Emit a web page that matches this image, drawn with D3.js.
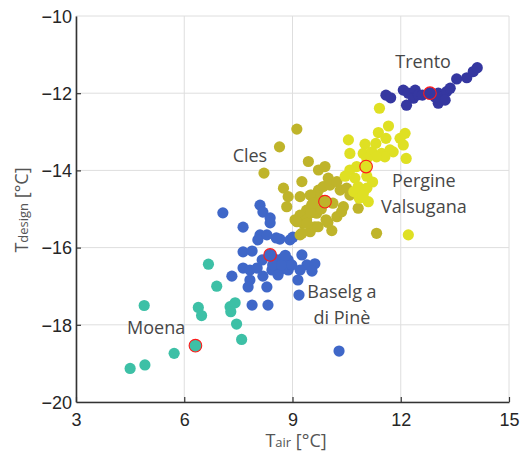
<!DOCTYPE html>
<html>
<head>
<meta charset="utf-8">
<script src="https://cdn.jsdelivr.net/npm/d3@7"></script>
<style>
  html, body { margin: 0; padding: 0; background: #fff; }
  svg { display: block; }
</style>
</head>
<body>
<svg id="chart" width="524" height="459"></svg>
<script>
// ---- data ----
const xTicks = [3, 6, 9, 12, 15];
const yTicks = [-10, -12, -14, -16, -18, -20];

const moenaX = [6.67,6.90,4.89,6.39,6.48,7.41,7.27,7.29,7.45,7.59,5.72,4.91,4.50];
const moenaY = [-16.43,-17.00,-17.50,-17.55,-17.76,-17.43,-17.53,-17.66,-17.98,-18.38,-18.74,-19.04,-19.13];

const baselgaX = [7.07,8.10,8.18,8.38,8.38,7.63,8.10,8.29,8.04,8.65,8.93,9.01,7.63,7.88,8.16,8.57,8.74,8.88,8.43,8.65,8.88,8.60,9.26,9.40,9.62,9.54,9.21,7.63,7.82,8.02,7.32,7.82,8.18,9.15,7.77,8.29,9.18,7.88,8.32,10.29,8.45,8.70,8.80,8.98,8.55];
const baselgaY = [-15.10,-14.90,-15.08,-15.23,-15.36,-15.47,-15.67,-15.67,-15.80,-15.78,-15.80,-15.73,-16.11,-16.09,-16.32,-16.32,-16.27,-16.32,-16.58,-16.58,-16.58,-16.71,-16.19,-16.45,-16.42,-16.61,-16.58,-16.53,-16.58,-16.53,-16.74,-16.84,-16.74,-16.84,-17.02,-17.02,-17.23,-17.49,-17.49,-18.68,-16.45,-16.45,-16.20,-16.45,-15.75];

const clesX = [9.12,8.64,8.21,9.44,9.72,9.90,9.99,9.26,8.75,8.88,8.84,9.53,9.72,9.85,10.04,10.23,10.32,10.50,10.59,9.53,9.39,9.21,9.07,9.30,9.67,10.23,10.41,10.82,9.49,9.21,10.09,11.33,10.36,9.62,9.39,9.26,9.60,9.70,9.80,9.50,9.98,10.12,9.21,9.49,9.57,9.12,9.40,9.71,9.93];
const clesY = [-12.93,-13.39,-14.07,-13.77,-13.99,-13.90,-14.20,-14.29,-14.46,-14.68,-14.94,-14.64,-14.51,-14.42,-14.38,-14.29,-14.51,-14.46,-14.64,-14.90,-15.03,-15.16,-15.28,-15.37,-15.11,-15.20,-14.94,-14.98,-15.59,-15.67,-15.56,-15.63,-15.07,-15.46,-15.28,-15.63,-14.80,-14.70,-15.00,-15.10,-15.35,-14.85,-14.68,-14.64,-14.85,-15.33,-15.37,-15.46,-15.28];

const pergineX = [11.41,11.66,11.38,11.59,11.31,10.55,11.01,10.59,10.96,11.20,11.47,11.79,11.98,12.12,12.07,12.15,11.70,11.56,11.33,11.06,10.78,10.59,11.06,10.46,10.73,10.82,11.06,10.96,11.10,12.21,10.70,10.85,11.22,10.95];
const pergineY = [-12.39,-12.85,-13.02,-13.17,-13.30,-13.21,-13.32,-13.56,-13.56,-13.52,-13.56,-13.52,-13.17,-13.04,-13.34,-13.69,-13.47,-13.65,-13.65,-13.69,-13.90,-13.99,-14.15,-14.15,-14.20,-14.42,-14.46,-14.59,-14.81,-15.67,-14.55,-14.72,-14.30,-14.65];

const trentoX = [11.59,11.72,12.07,12.21,12.40,12.35,12.16,12.49,13.04,13.13,13.04,13.27,13.37,13.23,13.55,13.83,14.01,14.12,12.95,12.60];
const trentoY = [-12.05,-12.12,-11.92,-12.00,-11.92,-12.13,-12.31,-12.04,-12.00,-12.09,-12.26,-11.96,-11.87,-12.18,-11.63,-11.60,-11.44,-11.34,-12.10,-12.05];

const stationNames = ["Baselga", "Moena", "Cles", "Pergine", "Trento"];
const repX = [8.38, 6.31, 9.90, 11.04, 12.81];
const repY = [-16.19, -18.54, -14.81, -13.90, -12.00];

// label anchors (data coords) and text lines
const labelLines = [["Baselg a", "di Pinè"], ["Moena"], ["Cles"], ["Pergine", "Valsugana"], ["Trento"]];
const labelX = [10.37, 5.22, 7.82, 12.64, 12.62];
const labelY = [-17.30, -18.25, -13.77, -14.43, -11.36];

// ---- chart ----
const W = 524, H = 459;
const m = {left: 76, top: 16, right: 15, bottom: 57};
const svg = d3.select("#chart");
const x = d3.scaleLinear().domain([3, 15]).range([m.left, W - m.right]);
const y = d3.scaleLinear().domain([-20, -10]).range([H - m.bottom, m.top]);

const colors = ["#3f67c8", "#3dc0a6", "#bfb42a", "#dfe023", "#3537a0"];
const sets = [
  [baselgaX, baselgaY], [moenaX, moenaY], [clesX, clesY], [pergineX, pergineY], [trentoX, trentoY]
];

// grid
const grid = svg.append("g");
grid.selectAll("line.vx").data(xTicks).join("line")
  .attr("x1", d => x(d)).attr("x2", d => x(d))
  .attr("y1", y(-20)).attr("y2", y(-10))
  .attr("stroke", "#dedede").attr("stroke-width", 1);
grid.selectAll("line.hy").data(yTicks).join("line")
  .attr("x1", x(3)).attr("x2", x(15))
  .attr("y1", d => y(d)).attr("y2", d => y(d))
  .attr("stroke", "#dedede").attr("stroke-width", 1);

// points
sets.forEach(([xs, ys], i) => {
  svg.append("g").selectAll("circle").data(xs.map((v, k) => [v, ys[k]])).join("circle")
    .attr("cx", d => x(d[0])).attr("cy", d => y(d[1])).attr("r", 5.6)
    .attr("fill", colors[i]);
});
// representative points with red ring
svg.append("g").selectAll("circle").data(repX.map((v, k) => [v, repY[k], k])).join("circle")
  .attr("cx", d => x(d[0])).attr("cy", d => y(d[1])).attr("r", 6.3)
  .attr("fill", d => colors[d[2]]).attr("stroke", "#ff1a1a").attr("stroke-width", 1.1);

// axes
const xAxis = d3.axisBottom(x).tickValues(xTicks).tickSizeInner(-5).tickSizeOuter(0).tickPadding(10);
const yAxis = d3.axisLeft(y).tickValues(yTicks).tickSizeInner(-5).tickSizeOuter(0).tickPadding(4);
const gx = svg.append("g").attr("transform", `translate(0,${y(-20)})`).call(xAxis);
const gy = svg.append("g").attr("transform", `translate(${x(3)},0)`).call(yAxis);
[gx, gy].forEach(g => {
  g.select(".domain").attr("stroke", "#333").attr("stroke-width", 1.6);
  g.selectAll(".tick line").attr("stroke", "#333").attr("stroke-width", 1.2);
  g.selectAll("text").attr("font-family", "'Liberation Sans', Arial, sans-serif")
    .attr("font-size", 18).attr("fill", "#262626");
});
gx.selectAll("text").attr("dy", "0.75em");
gy.selectAll("text").attr("dy", "0.35em");
gy.selectAll(".tick").filter(d => d === -10 || d === -20).select("line").remove();

// station labels
const lab = svg.append("g").attr("font-family", "'Open Sans', sans-serif")
  .attr("font-size", 18).attr("fill", "#474747").attr("text-anchor", "middle");
labelLines.forEach((lines, i) => {
  lines.forEach((t, j) => {
    lab.append("text").attr("x", x(labelX[i])).attr("y", y(labelY[i]) + j * 26).text(t);
  });
});

// axis titles
const xt = svg.append("text").attr("x", 296).attr("y", 447)
  .attr("text-anchor", "middle").attr("font-family", "'Open Sans', sans-serif").attr("fill", "#555");
xt.append("tspan").attr("font-size", 18).text("T");
xt.append("tspan").attr("font-size", 13).text("air");
xt.append("tspan").attr("font-size", 18).text(" [°C]");

const yt = svg.append("text").attr("transform", "translate(28,210) rotate(-90)")
  .attr("text-anchor", "middle").attr("font-family", "'Open Sans', sans-serif").attr("fill", "#555");
yt.append("tspan").attr("font-size", 18).text("T");
yt.append("tspan").attr("font-size", 13).text("design");
yt.append("tspan").attr("font-size", 18).text(" [°C]");
</script>
</body>
</html>
